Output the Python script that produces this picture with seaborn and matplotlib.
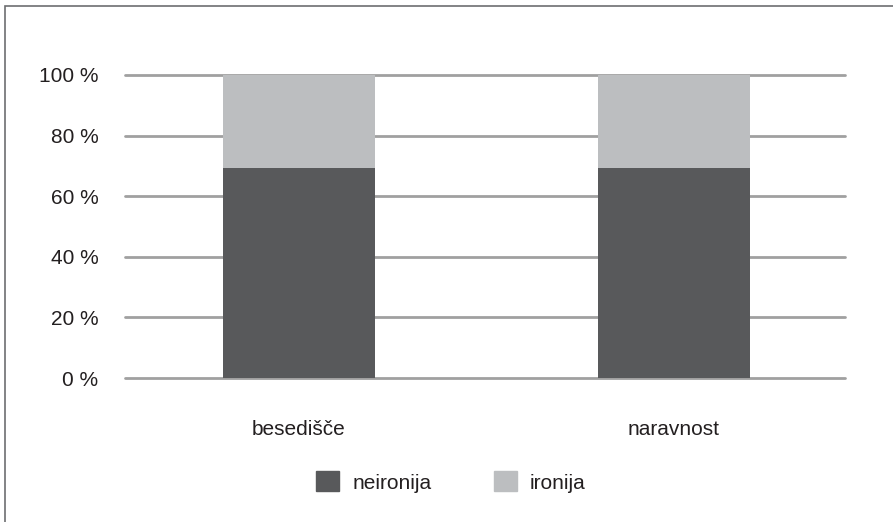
import pandas as pd
import matplotlib.pyplot as plt
import matplotlib.patches as mpatches
import seaborn as sns

# data (share in %)
categories = ["besedišče", "naravnost"]
neironija = [69.3, 69.3]
ironija = [30.7, 30.7]
series_names = ["neironija", "ironija"]
yticks = [0, 20, 40, 60, 80, 100]

dark = "#58595b"
light = "#bcbec0"

sns.set_style("white")
plt.rcParams['font.family'] = ['Liberation Sans', 'DejaVu Sans']

df = pd.DataFrame({"kategorija": categories, "neironija": neironija, "ironija": ironija})
df["skupaj"] = df["neironija"] + df["ironija"]

fig = plt.figure(figsize=(8.93, 5.22), dpi=100)
ax = fig.add_axes([125 / 893, 1 - 378 / 522, 720 / 893, 303 / 522])

# stacked: draw total in light, then bottom part in dark on top
sns.barplot(data=df, x="kategorija", y="skupaj", color=light, width=0.405,
            saturation=1, linewidth=0, ax=ax, zorder=3)
sns.barplot(data=df, x="kategorija", y="neironija", color=dark, width=0.405,
            saturation=1, linewidth=0, ax=ax, zorder=4)

ax.set_xlim(-0.464, 1.456)
ax.set_ylim(0, 100)
ax.set_yticks(yticks)
ax.set_yticklabels([f"{t} %" for t in yticks])
for t in yticks:
    ax.axhline(t, color="#a0a0a0", lw=2, zorder=1, clip_on=False)
ax.grid(False)
for s in ax.spines.values():
    s.set_visible(False)
ax.set_xlabel("")
ax.set_ylabel("")
ax.tick_params(axis="y", length=0, pad=19, labelsize=15, labelcolor="#231f20")
ax.tick_params(axis="x", length=0, pad=30, labelsize=15, labelcolor="#231f20")

handles = [mpatches.Patch(color=dark, label=series_names[0]),
           mpatches.Patch(color=light, label=series_names[1])]
fig.legend(handles=handles, loc="center", bbox_to_anchor=(0.505, 1 - 482 / 522),
           ncol=2, frameon=False, fontsize=15, handlelength=1.1, handleheight=1.1,
           handletextpad=0.63, columnspacing=3.0, labelcolor="#231f20")

# outer frame
fig.patches.append(mpatches.Rectangle((5 / 893, -0.1), 1.2, 1.1 - 6 / 522,
                                      transform=fig.transFigure, fill=False,
                                      edgecolor="#6d6e71", lw=1.2))

fig.savefig("out.png", dpi=100)
